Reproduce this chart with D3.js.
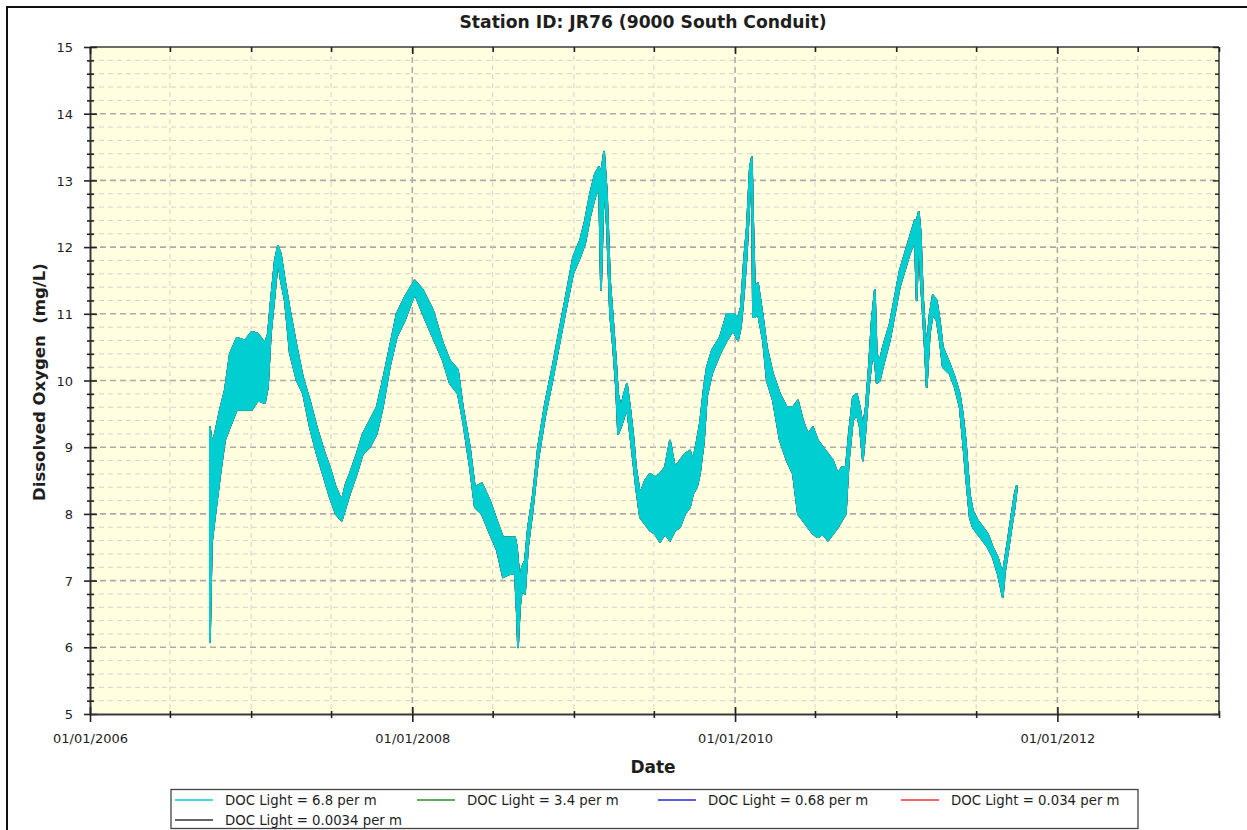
<!DOCTYPE html>
<html>
<head>
<meta charset="utf-8">
<script src="https://cdn.jsdelivr.net/npm/d3@7"></script>
<style>
  html, body { margin: 0; padding: 0; background: #ffffff; }
  svg { display: block; }
  text { font-family: "DejaVu Sans", Verdana, sans-serif; fill: #1e1e1e; white-space: pre; }
</style>
</head>
<body>
<svg id="chart" width="1247" height="830"></svg>
<script>
// ---------------- DATA ----------------
// Dates are decimal years; each sample gives the low and high of the (noisy) trace.
const dates = [
  2006.744, 2006.756, 2006.775, 2006.806, 2006.837, 2006.868, 2006.911, 2006.961,
  2007.004, 2007.042, 2007.085, 2007.104, 2007.122, 2007.147, 2007.166, 2007.184,
  2007.209, 2007.240, 2007.283, 2007.321, 2007.364, 2007.407, 2007.451, 2007.488,
  2007.525, 2007.562, 2007.587, 2007.612, 2007.655, 2007.693, 2007.736, 2007.779,
  2007.817, 2007.860, 2007.903, 2007.953,
  2008.015, 2008.065, 2008.127, 2008.189, 2008.232, 2008.282, 2008.313, 2008.356,
  2008.387, 2008.430, 2008.480, 2008.523, 2008.561, 2008.604, 2008.635, 2008.647,
  2008.654, 2008.666, 2008.678, 2008.697, 2008.716, 2008.747, 2008.778, 2008.821,
  2008.871, 2008.902, 2008.957, 2008.995,
  2009.038, 2009.069, 2009.100, 2009.131, 2009.156, 2009.168, 2009.187, 2009.205,
  2009.224, 2009.243, 2009.261, 2009.274, 2009.292, 2009.311, 2009.329, 2009.348,
  2009.367, 2009.385, 2009.410, 2009.441, 2009.472, 2009.503, 2009.534, 2009.565,
  2009.596, 2009.627, 2009.658, 2009.689, 2009.720, 2009.739, 2009.763, 2009.782,
  2009.807, 2009.825, 2009.856, 2009.906, 2009.949, 2009.987,
  2010.018, 2010.036, 2010.055, 2010.073, 2010.092, 2010.104, 2010.111, 2010.123,
  2010.142, 2010.173, 2010.197, 2010.235, 2010.278, 2010.321, 2010.359, 2010.390,
  2010.421, 2010.452, 2010.483, 2010.514, 2010.545, 2010.576, 2010.607, 2010.638,
  2010.662, 2010.687, 2010.706, 2010.731, 2010.755, 2010.774, 2010.793, 2010.811,
  2010.830, 2010.848, 2010.867, 2010.879, 2010.898, 2010.917, 2010.960,
  2011.022, 2011.084, 2011.115, 2011.127, 2011.140, 2011.152, 2011.165, 2011.177,
  2011.189, 2011.208, 2011.227, 2011.251, 2011.270, 2011.289, 2011.332, 2011.363,
  2011.394, 2011.413, 2011.431, 2011.456, 2011.475, 2011.506, 2011.537, 2011.568,
  2011.599, 2011.630, 2011.648, 2011.661, 2011.673, 2011.692, 2011.716, 2011.735,
  2011.747
];
const doLow = [
  6.08, 7.56, 7.95, 8.55, 9.10, 9.30, 9.56, 9.56,
  9.56, 9.70, 9.66, 9.90, 10.70, 11.30, 11.80, 11.50,
  11.20, 10.41, 10.00, 9.81, 9.30, 8.90, 8.55, 8.25,
  8.00, 7.90, 8.10, 8.30, 8.60, 8.90, 9.00, 9.20,
  9.60, 10.20, 10.65, 10.90,
  11.30, 11.00, 10.65, 10.30, 9.96, 9.80, 9.40, 8.70,
  8.10, 8.00, 7.70, 7.46, 7.05, 7.10, 7.10, 6.50,
  6.00, 6.60, 6.86, 6.80, 7.50, 8.10, 8.80, 9.45,
  10.05, 10.45, 11.15, 11.60,
  11.85, 12.05, 12.45, 12.75, 12.90, 11.36, 13.00, 12.30,
  11.00, 10.50, 9.90, 9.20, 9.30, 9.45, 9.60, 9.20,
  8.80, 8.40, 7.95, 7.85, 7.75, 7.70, 7.58, 7.70,
  7.60, 7.75, 7.80, 8.00, 8.10, 8.30, 8.40, 8.60,
  9.10, 9.75, 10.10, 10.40, 10.60, 10.75,
  10.60, 10.80, 11.30, 11.90, 12.80, 13.00, 10.95, 10.95,
  11.00, 10.60, 10.00, 9.70, 9.10, 8.80, 8.60, 8.00,
  7.90, 7.80, 7.70, 7.65, 7.70, 7.60, 7.70, 7.80,
  7.90, 8.00, 8.80, 9.40, 9.50, 9.30, 8.80, 9.30,
  9.90, 10.30, 10.30, 9.96, 10.00, 10.20, 10.60,
  11.40, 11.90, 12.10, 11.20, 12.30, 11.50, 11.00, 10.50,
  9.90, 10.70, 11.00, 10.90, 10.60, 10.20, 10.10, 9.90,
  9.60, 9.10, 8.60, 7.95, 7.80, 7.70, 7.60, 7.50,
  7.35, 7.10, 6.90, 6.75, 7.10, 7.40, 7.80, 8.10,
  8.35
];
const doHigh = [
  9.30, 9.06, 9.20, 9.56, 9.86, 10.40, 10.64, 10.60,
  10.73, 10.70, 10.56, 10.70, 11.20, 11.80, 12.02, 11.90,
  11.50, 11.06, 10.50, 10.05, 9.70, 9.30, 8.95, 8.70,
  8.40, 8.20, 8.45, 8.60, 8.90, 9.20, 9.40, 9.60,
  10.00, 10.50, 11.00, 11.25,
  11.50, 11.36, 11.06, 10.56, 10.30, 10.16, 9.60, 9.00,
  8.40, 8.46, 8.20, 7.90, 7.65, 7.65, 7.65, 7.50,
  7.30, 7.00, 7.20, 7.30, 7.80, 8.30, 9.00, 9.65,
  10.25, 10.65, 11.35, 11.85,
  12.10, 12.40, 12.80, 13.10, 13.20, 13.10, 13.43, 12.80,
  11.50, 10.90, 10.30, 9.80, 9.60, 9.80, 9.95, 9.60,
  9.20, 8.70, 8.30, 8.50, 8.60, 8.55, 8.60, 8.70,
  9.10, 8.70, 8.80, 8.90, 8.95, 8.80, 9.10, 9.36,
  9.90, 10.20, 10.45, 10.65, 11.00, 11.00,
  10.95, 11.10, 11.80, 12.30, 13.20, 13.35, 12.50, 11.40,
  11.46, 10.95, 10.50, 10.10, 9.80, 9.60, 9.60, 9.70,
  9.40, 9.20, 9.30, 9.10, 9.00, 8.90, 8.80, 8.60,
  8.70, 8.70, 9.20, 9.75, 9.80, 9.60, 9.30, 9.60,
  10.20, 10.90, 11.36, 10.40, 10.30, 10.50, 10.85,
  11.65, 12.15, 12.40, 12.40, 12.53, 12.20, 11.30, 10.80,
  10.50, 11.00, 11.28, 11.20, 10.90, 10.50, 10.25, 10.05,
  9.80, 9.50, 9.10, 8.30, 8.05, 7.90, 7.80, 7.70,
  7.50, 7.35, 7.20, 7.10, 7.30, 7.60, 8.00, 8.30,
  8.42
];

const seriesNames = [
  "DOC Light = 6.8 per m",
  "DOC Light = 3.4 per m",
  "DOC Light = 0.68 per m",
  "DOC Light = 0.034 per m",
  "DOC Light = 0.0034 per m"
];
const seriesColors = ["#00CED1", "#2E8B2E", "#2424E6", "#F03030", "#333333"];

const yTickLabels = ["5", "6", "7", "8", "9", "10", "11", "12", "13", "14", "15"];
const xTickLabels = ["01/01/2006", "01/01/2008", "01/01/2010", "01/01/2012"];

const titleText = "Station ID: JR76 (9000 South Conduit)";
const xAxisTitle = "Date";
const yAxisTitle = "Dissolved Oxygen  (mg/L)";

// ---------------- CHART ----------------
const svg = d3.select("#chart");
const W = 1247, H = 830;
const M = { left: 90, right: 1219, top: 47, bottom: 714 };

function decYear(v) {
  const y = Math.floor(v), f = v - y;
  const s = Date.UTC(y, 0, 1), e = Date.UTC(y + 1, 0, 1);
  return new Date(s + f * (e - s));
}

const x = d3.scaleUtc()
  .domain([new Date(Date.UTC(2006, 0, 1)), new Date(Date.UTC(2013, 0, 1))])
  .range([M.left, M.right]);
const y = d3.scaleLinear().domain([5, 15]).range([M.bottom, M.top]);

// Outer frame
svg.append("rect").attr("x", 7).attr("y", 7).attr("width", W + 20).attr("height", H + 20)
  .attr("fill", "#ffffff").attr("stroke", "#111").attr("stroke-width", 2);

// Plot background
svg.append("rect").attr("x", M.left).attr("y", M.top)
  .attr("width", M.right - M.left).attr("height", M.bottom - M.top)
  .attr("fill", "#FFFFE0");

// Grid
const halfYears = d3.utcMonth.every(6).range(x.domain()[0], d3.utcDay.offset(x.domain()[1], 1));
const majorYears = xTickLabels.map(s => new Date(Date.UTC(+s.slice(6), 0, 1)));
const isMajorX = d => majorYears.some(m => +m === +d);
const yMinor = d3.range(50, 151, 2).map(v => v / 10);
const isMajorY = v => Math.abs(v - Math.round(v)) < 1e-6;

const grid = svg.append("g");
grid.selectAll("line.hy").data(yMinor.filter(v => v > 5 && v < 15)).enter().append("line")
  .attr("x1", M.left).attr("x2", M.right)
  .attr("y1", d => y(d)).attr("y2", d => y(d))
  .attr("stroke", d => isMajorY(d) ? "#ababab" : "#d2d2cc")
  .attr("stroke-width", d => isMajorY(d) ? 1.6 : 1)
  .attr("stroke-dasharray", d => isMajorY(d) ? "6,4" : "5,4");
grid.selectAll("line.vx").data(halfYears.filter(d => +d > +x.domain()[0] && +d < +x.domain()[1])).enter().append("line")
  .attr("x1", d => x(d)).attr("x2", d => x(d))
  .attr("y1", M.top).attr("y2", M.bottom)
  .attr("stroke", d => isMajorX(d) ? "#ababab" : "#d2d2cc")
  .attr("stroke-width", d => isMajorX(d) ? 1.6 : 1)
  .attr("stroke-dasharray", d => isMajorX(d) ? "6,4" : "5,4");

// Series (all five runs overlap almost exactly; the 6.8 per m run is drawn on top)
const pts = dates.map((d, i) => ({ t: decYear(d), lo: doLow[i], hi: doHigh[i] }));
const area = d3.area().x(d => x(d.t)).y0(d => y(d.lo)).y1(d => y(d.hi));
const plot = svg.append("g");
const drawOrder = [4, 3, 2, 1, 0];
drawOrder.forEach(si => {
  const c = seriesColors[si];
  plot.append("path").attr("d", area(pts)).attr("fill", c).attr("stroke", c)
    .attr("stroke-width", 1.7).attr("stroke-linejoin", "round");
});

// Axes frame
const axisColor = "#3a3a3a";
svg.append("line").attr("x1", M.left).attr("x2", M.right).attr("y1", M.top).attr("y2", M.top)
  .attr("stroke", axisColor).attr("stroke-width", 1.5);
svg.append("line").attr("x1", M.right).attr("x2", M.right).attr("y1", M.top).attr("y2", M.bottom)
  .attr("stroke", axisColor).attr("stroke-width", 1.5);

// Left axis
const yAxis = d3.axisLeft(y).tickValues(yMinor).tickSize(0).tickFormat("");
const gy = svg.append("g").attr("transform", `translate(${M.left},0)`).call(yAxis);
gy.select(".domain").attr("stroke", axisColor).attr("stroke-width", 2);
gy.selectAll(".tick line").remove();
gy.selectAll(".tick").append("line")
  .attr("x1", d => isMajorY(d) ? -6 : -3).attr("x2", d => isMajorY(d) ? 7 : 4)
  .attr("stroke", "#222").attr("stroke-width", 1.6);
gy.selectAll(".tick text").remove();
gy.selectAll(".tick").filter(d => isMajorY(d)).append("text")
  .attr("x", -17).attr("dy", "0.36em").attr("text-anchor", "end")
  .style("font-size", "13px")
  .text(d => yTickLabels[Math.round(d) - 5]);

// Right axis ticks (inside)
const gyr = svg.append("g").attr("transform", `translate(${M.right},0)`).call(d3.axisRight(y).tickValues(yMinor).tickSize(0).tickFormat(""));
gyr.select(".domain").remove();
gyr.selectAll(".tick line").remove();
gyr.selectAll(".tick").append("line")
  .attr("x1", d => isMajorY(d) ? -6 : -4).attr("x2", 0)
  .attr("stroke", "#222").attr("stroke-width", 1.4);

// Bottom axis
const xAxis = d3.axisBottom(x).tickValues(halfYears).tickSize(0).tickFormat("");
const gx = svg.append("g").attr("transform", `translate(0,${M.bottom})`).call(xAxis);
gx.select(".domain").attr("stroke", axisColor).attr("stroke-width", 2);
gx.selectAll(".tick line").remove();
gx.selectAll(".tick").append("line")
  .attr("y1", d => isMajorX(d) ? -7 : -3).attr("y2", d => isMajorX(d) ? 8 : 4)
  .attr("stroke", "#222").attr("stroke-width", 1.6);
gx.selectAll(".tick text").remove();
gx.selectAll(".tick").filter(d => isMajorX(d)).append("text")
  .attr("y", 29).attr("text-anchor", "middle")
  .style("font-size", "13px")
  .text(d => xTickLabels[majorYears.findIndex(m => +m === +d)]);

// Top axis ticks (inside)
const gxt = svg.append("g").attr("transform", `translate(0,${M.top})`).call(d3.axisTop(x).tickValues(halfYears).tickSize(0).tickFormat(""));
gxt.select(".domain").remove();
gxt.selectAll(".tick line").remove();
gxt.selectAll(".tick").append("line")
  .attr("y1", 0).attr("y2", d => isMajorX(d) ? 7 : 5)
  .attr("stroke", "#222").attr("stroke-width", 1.6);

// Titles
svg.append("text").attr("x", 643).attr("y", 28).attr("text-anchor", "middle")
  .style("font-size", "17.2px").style("font-weight", "bold").text(titleText);
svg.append("text").attr("x", 653).attr("y", 773).attr("text-anchor", "middle")
  .style("font-size", "17px").style("font-weight", "bold").text(xAxisTitle);
svg.append("text").attr("transform", "translate(45,382) rotate(-90)").attr("text-anchor", "middle")
  .style("font-size", "16.5px").style("font-weight", "bold").text(yAxisTitle);

// Legend
const lg = svg.append("g");
lg.append("rect").attr("x", 171).attr("y", 789.5).attr("width", 967).attr("height", 39)
  .attr("fill", "#ffffff").attr("stroke", "#444").attr("stroke-width", 1.3);
const legendPos = [[175, 800], [417, 800], [658, 800], [901, 800], [175, 820]];
seriesNames.forEach((n, i) => {
  const [lx, ly] = legendPos[i];
  lg.append("line").attr("x1", lx).attr("x2", lx + 38).attr("y1", ly).attr("y2", ly)
    .attr("stroke", seriesColors[i]).attr("stroke-width", 1.5);
  lg.append("text").attr("x", lx + 50).attr("y", ly).attr("dy", "0.36em")
    .style("font-size", "13.3px").text(n);
});
</script>
</body>
</html>
